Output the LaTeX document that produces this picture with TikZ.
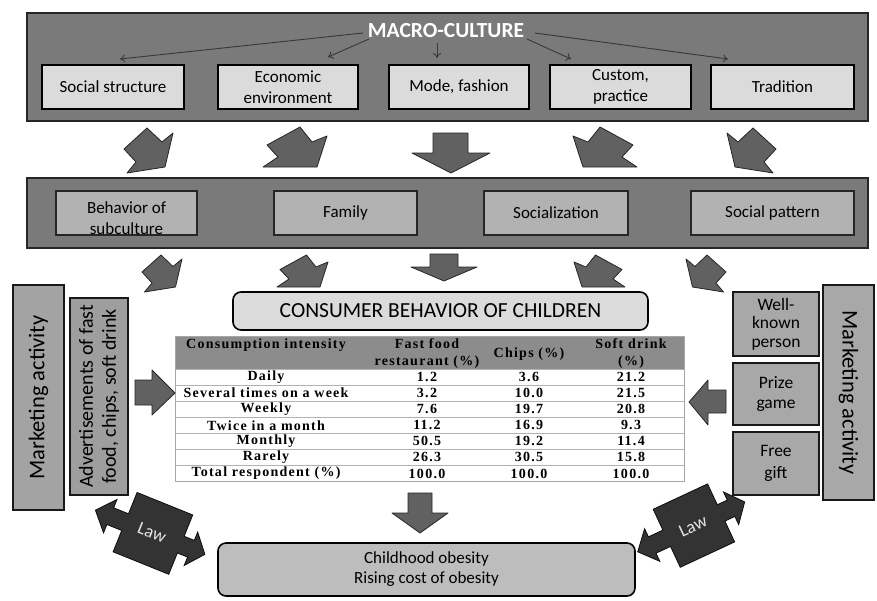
\documentclass[tikz,border=0pt]{standalone}
\usepackage{fontspec}
\setmainfont{Carlito}
\newfontfamily\tabfont{Liberation Serif}[LetterSpace=9]
\usetikzlibrary{arrows.meta,calc}
\tikzset{
  band/.style={draw=black!85, line width=1.6pt, fill=black!52, inner sep=0pt},
  topbox/.style={draw=black, line width=1.3pt, fill=black!14, minimum height=44pt, inner sep=0pt, align=center, font=\fontsize{17}{21}\selectfont},
  midbox/.style={draw=black!85, line width=1.3pt, fill=black!30, minimum height=44pt, inner sep=0pt, align=center, font=\fontsize{17}{21}\selectfont},
  sidebox/.style={draw=black!90, line width=1.4pt, fill=black!34, inner sep=0pt, align=center},
  thinarrow/.style={draw=black!78, line width=0.9pt, -{To[length=5pt,width=8pt]}},
  blockarrow/.style={draw=black!85, line width=0.8pt, fill=black!62, line join=round},
  lawshape/.style={draw=black!95, line width=0.8pt, fill=black!80},
  tcell/.style={inner sep=0pt, font=\tabfont\bfseries\fontsize{14}{16}\selectfont},
  tline/.style={draw=black!30, line width=0.7pt},
  roundbox/.style={draw=black, line width=1.6pt, rounded corners=8pt, inner sep=0pt, align=center}
}
\begin{document}
\begin{tikzpicture}[x=1pt,y=-1pt]
\useasboundingbox (0,0) rectangle (877,600);

% ---------- top band ----------
\node[band, minimum width=841pt, minimum height=108pt] (band1) at (447.5,67) {};
\node[font=\bfseries\fontsize{21.5}{24}\selectfont, text=white, inner sep=0pt] (macro) at (446,31) {MACRO-CULTURE};
\node[topbox, minimum width=142pt] (ss) at (113,87) {Social structure};
\node[topbox, minimum width=140pt] (econ) at (288,87) {Economic\\environment};
\node[topbox, minimum width=140pt] (mode) at (459,87) {Mode, fashion};
\node[topbox, minimum width=141pt] (cust) at (620.5,87) {Custom,\\practice};
\node[topbox, minimum width=143pt] (trad) at (782.5,87) {Tradition};

\coordinate (s1) at (363,33); \coordinate (e1) at (120,59);
\coordinate (s2) at (369,39); \coordinate (e2) at (328,57);
\coordinate (s3) at (437,43); \coordinate (e3) at (437,58);
\coordinate (s4) at (527,39); \coordinate (e4) at (571,59);
\coordinate (s5) at (535,33); \coordinate (e5) at (728,59);
\draw[thinarrow] (s1) -- (e1);
\draw[thinarrow] (s2) -- (e2);
\draw[thinarrow] (s3) -- (e3);
\draw[thinarrow] (s4) -- (e4);
\draw[thinarrow] (s5) -- (e5);

% ---------- arrows row 1 ----------
\path[blockarrow] (124,149) -- (147,128) -- (162,142) -- (173,133) -- (165,167) -- (127,173) -- (136,162) -- cycle;
\path[blockarrow] (267,145) -- (300,127) -- (312,142) -- (327,136) -- (317,167) -- (263,167) -- (278,157) -- cycle;
\path[blockarrow] (433,133) -- (468,133) -- (468,153) -- (490,153) -- (451,173) -- (412,153) -- (433,153) -- cycle;
\path[blockarrow] (633,145) -- (600,127) -- (588,142) -- (573,136) -- (583,167) -- (637,167) -- (622,157) -- cycle;
\path[blockarrow] (776,149) -- (753,128) -- (738,142) -- (727,133) -- (735,167) -- (773,173) -- (764,162) -- cycle;

% ---------- second band ----------
\node[band, minimum width=841pt, minimum height=70pt] (band2) at (447.5,213) {};
\node[midbox, minimum width=141pt] (beh) at (126.5,213) {};
\node[inner sep=0pt, align=center, font=\fontsize{17}{21}\selectfont] (behtxt) at (126.5,218) {Behavior of\\subculture};
\node[midbox, minimum width=143pt] (fam) at (345.5,213) {Family};
\node[midbox, minimum width=144pt] (soc) at (556,213) {Socialization};
\node[midbox, minimum width=163pt] (pat) at (772.5,213) {Social pattern};

% ---------- arrows row 2 ----------
\path[blockarrow] (142,272) -- (161,255) -- (173,266.5) -- (182,259) -- (175.5,287) -- (144.5,292) -- (152,283) -- cycle;
\path[blockarrow] (280,269.5) -- (306.5,255) -- (316,267) -- (328,262) -- (320,287) -- (277,287) -- (289,279) -- cycle;
\path[blockarrow] (430,254) -- (458,254) -- (458,267) -- (477,267) -- (444,281) -- (411,267) -- (430,267) -- cycle;
\path[blockarrow] (622,269.5) -- (595.5,255) -- (586,267) -- (574,262) -- (582,287) -- (625,287) -- (613,279) -- cycle;
\path[blockarrow] (726,272) -- (707,255) -- (695,266.5) -- (686,259) -- (692.5,287) -- (723.5,292) -- (716,283) -- cycle;

% ---------- consumer behavior ----------
\node[roundbox, fill=black!14, minimum width=415pt, minimum height=38pt, font=\fontsize{21.5}{24}\selectfont] (cons) at (440.5,311) {CONSUMER BEHAVIOR OF CHILDREN};

% ---------- table ----------
\fill[black!45] (175,336) rectangle (684,369);
\fill[white] (175,369) rectangle (684,481.5);
\foreach \k in {1,...,6} {\draw[tline] (175,{369+\k*16.07}) -- (684,{369+\k*16.07});}
\draw[tline] (175,369) -- (684,369);
\draw[draw=black!35, line width=0.8pt] (175,336) rectangle (684,481.5);
\node[tcell] (h1) at (266,345) {Consumption intensity};
\node[tcell, align=center, font=\tabfont\bfseries\fontsize{14}{17}\selectfont] (h2) at (427,353.5) {Fast food\\restaurant (\%)};
\node[tcell] (h3) at (529,354) {Chips (\%)};
\node[tcell, align=center, font=\tabfont\bfseries\fontsize{14}{17}\selectfont] (h4) at (631,353.5) {Soft drink\\(\%)};
\foreach \r/\a/\b/\c/\d in {1/Daily/1.2/3.6/21.2, 2/Several times on a week/3.2/10.0/21.5, 3/Weekly/7.6/19.7/20.8, 4/Twice in a month/11.2/16.9/9.3, 5/Monthly/50.5/19.2/11.4, 6/Rarely/26.3/30.5/15.8, 7/Total respondent (\%)/100.0/100.0/100.0} {
  \pgfmathsetmacro\yy{369+(\r-0.5)*16.07}
  \node[tcell] (r\r a) at (266,\yy) {\a};
  \node[tcell] (r\r b) at (427,\yy) {\b};
  \node[tcell] (r\r c) at (529,\yy) {\c};
  \node[tcell] (r\r d) at (631,\yy) {\d};
}

% ---------- left side ----------
\node[sidebox, fill=black!36, rotate=90, minimum width=225pt, minimum height=51pt, font=\fontsize{22.5}{25}\selectfont] (mktL) at (38.5,397.5) {Marketing activity};
\node[sidebox, fill=black!38, rotate=90, minimum width=197pt, minimum height=58pt, font=\fontsize{20}{23}\selectfont] (adv) at (99,396.5) {Advertisements of fast\\food, chips, soft drink};
\path[blockarrow] (135,380) -- (152,380) -- (152,370) -- (175,393) -- (152,415) -- (152,405) -- (135,405) -- cycle;

% ---------- right side ----------
\node[sidebox, fill=black!34, rotate=-90, minimum width=215pt, minimum height=51pt, font=\fontsize{22.5}{25}\selectfont] (mktR) at (848.5,392.5) {Marketing activity};
\node[sidebox, minimum width=86pt, minimum height=64pt, font=\fontsize{17.5}{18.5}\selectfont] (wkp) at (776,324) {Well-\\known\\person};
\node[sidebox, minimum width=86pt, minimum height=62pt, font=\fontsize{17.5}{20}\selectfont] (prize) at (776,394) {Prize\\game};
\node[sidebox, minimum width=86pt, minimum height=63pt, font=\fontsize{17.5}{22}\selectfont] (gift) at (776,463.5) {Free\\gift};
\path[blockarrow] (726,390) -- (708,390) -- (708,380) -- (689,402) -- (708,425) -- (708,413) -- (726,413) -- cycle;

% ---------- bottom ----------
\path[blockarrow] (408,493) -- (432,493) -- (432,513) -- (448,513) -- (420,533) -- (392,513) -- (408,513) -- cycle;
\node[roundbox, fill=black!26, minimum width=417pt, minimum height=53pt, font=\fontsize{17}{20}\selectfont] (obes) at (426.5,569.5) {Childhood obesity\\Rising cost of obesity};

% ---------- law shapes ----------
\begin{scope}[shift={(152,533)}, rotate=-22]
  \path[lawshape] (-29,-32) -- (31,-32) -- (31,-9) -- (42,-9) -- (42,-18) -- (57,0) -- (42,18) -- (42,9) -- (31,9) -- (31,32) -- (-29,32) -- (-29,9) -- (-45,9) -- (-45,18) -- (-61,0) -- (-45,-18) -- (-45,-9) -- (-29,-9) -- cycle;
\end{scope}
\node[rotate=-22, text=black!10, font=\fontsize{18}{20}\selectfont, inner sep=0pt] (lawL) at (152,533) {Law};
\begin{scope}[shift={(693,526)}, rotate=25]
  \path[lawshape] (-29,-32) -- (31,-32) -- (31,-9) -- (42,-9) -- (42,-18) -- (57,0) -- (42,18) -- (42,9) -- (31,9) -- (31,32) -- (-29,32) -- (-29,9) -- (-45,9) -- (-45,18) -- (-61,0) -- (-45,-18) -- (-45,-9) -- (-29,-9) -- cycle;
\end{scope}
\node[rotate=25, text=black!10, font=\fontsize{18}{20}\selectfont, inner sep=0pt] (lawR) at (693,526) {Law};
\end{tikzpicture}
\end{document}
